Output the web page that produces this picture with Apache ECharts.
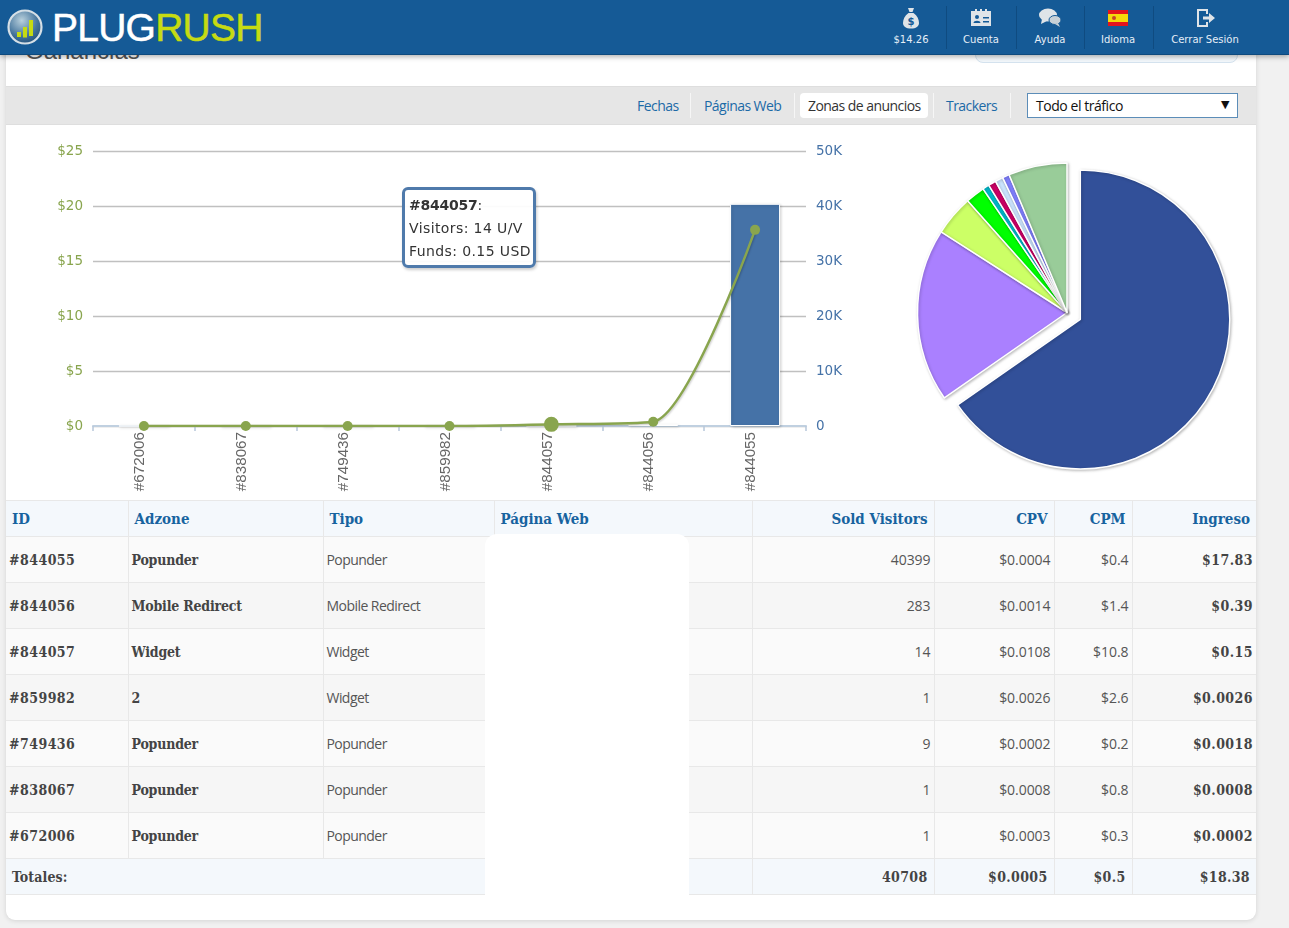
<!DOCTYPE html>
<html lang="es">
<head>
<meta charset="utf-8">
<title>PlugRush</title>
<script src="https://cdn.jsdelivr.net/npm/echarts@6/dist/echarts.min.js"></script>
<style>
  html, body { margin: 0; height: 100%; overflow: hidden; background: #f1f1f1; }
  body { position: relative; width: 1289px; height: 928px; font-family: "Open Sans", sans-serif; color: #444; }
  .abs { position: absolute; }
  #card { left: 6px; top: 40px; width: 1250px; height: 880px; background: #fff; border-radius: 0 0 9px 9px; box-shadow: 0 1px 5px rgba(0,0,0,.12); }
  #heading { left: 25px; top: 37px; font: 24px "Liberation Sans", sans-serif; color: #555; }
  #datebox { left: 975px; top: 40px; width: 261px; height: 21px; background: #f3f8fc; border: 1px solid #d5e3ef; border-radius: 8px; }
  #header { left: 0; top: 0; width: 1289px; height: 54px; background: #155a96; border-bottom: 1px solid #0e4a7e; box-shadow: 0 2px 5px rgba(0,0,0,.3); }
  #logo { left: 52px; top: 6px; font: 39px/44px "Liberation Sans", sans-serif; letter-spacing: -.75px; color: #fff; -webkit-text-stroke: .5px #fff; }
  #logo span { color: #c6db12; -webkit-text-stroke: .5px #c6db12; }
  .nav { top: 7px; width: 90px; text-align: center; color: #e6eef6; font: 10px/12px "DejaVu Sans", sans-serif; }
  .nav svg { display: block; margin: 0 auto 5px; width: 24px; height: 22px; }
  .navsep { top: 6px; width: 1px; height: 43px; background: #0f4b80; }
  #toolbar { left: 6px; top: 86px; width: 1250px; height: 39px; background: #e6e6e6; border-top: 1px solid #dedede; border-bottom: 1px solid #dedede; box-sizing: border-box; }
  .tab { top: 97px; font: 14px/18px "Open Sans", sans-serif; letter-spacing: -.55px; color: #1c6aa6; white-space: nowrap; }
  #activetab { left: 800px; top: 93px; width: 128px; height: 25px; background: #fff; border-radius: 4px; }
  .tabsep { top: 93px; width: 1px; height: 25px; background: #f6f6f6; }
  #select { left: 1027px; top: 93px; width: 211px; height: 25px; box-sizing: border-box; background: #fff; border: 1px solid #5c8db8; font: 14px/23px "Open Sans", sans-serif; letter-spacing: -.45px; color: #111; padding-left: 8px; }
  #select b { position: absolute; right: 8px; top: -1px; font: 11px/23px "DejaVu Sans", sans-serif; }
  #chart { left: 6px; top: 125px; width: 1250px; height: 375px; }
  #report { left: 6px; top: 500px; width: 1250px; border-collapse: collapse; table-layout: fixed; }
  #report th, #report td { border: 1px solid #e8e8e8; padding: 0; white-space: nowrap; }
  #report tr > :first-child { border-left: 0; }
  #report tr > :last-child { border-right: 0; }
  #report th { height: 35px; background: #f4f8fc; color: #17639f; font: bold 15px "DejaVu Serif Condensed", "DejaVu Serif", serif; font-stretch: condensed; letter-spacing: 0; text-align: left; padding-left: 6px; }
  #report th.num { text-align: right; padding: 0 6px 0 0; }
  #report td { height: 45px; font: 14px "Open Sans", sans-serif; letter-spacing: -.55px; color: #555; padding-left: 3px; }
  #report tbody tr:nth-child(odd) td { background: #fafafa; }
  #report tbody tr:nth-child(even) td { background: #f6f6f6; }
  #report td.num { text-align: right; padding: 0 3px 0 0; letter-spacing: -.05px; }
  #report td.strong { font: bold 14px "DejaVu Serif Condensed", "DejaVu Serif", serif; font-stretch: condensed; letter-spacing: -.2px; color: #444; }
  #report td.strong.digits { letter-spacing: .45px; }
  #report tfoot td { height: 35px; background: #f4f8fc; font: bold 14px "DejaVu Serif Condensed", "DejaVu Serif", serif; font-stretch: condensed; letter-spacing: .1px; color: #444; padding-left: 6px; }
  #report tfoot td.num { padding: 0 6px 0 0; letter-spacing: .35px; }
  #mask { left: 485px; top: 534px; width: 204px; height: 361px; background: #fff; border-radius: 12px 12px 0 0; }
</style>
</head>
<body>
<div class="abs" id="card"></div>
<div class="abs" id="heading">Ganancias</div>
<div class="abs" id="datebox"></div>
<div class="abs" id="toolbar"></div>
<div class="abs" id="activetab"></div>
<div class="abs tab" style="left:637px">Fechas</div>
<div class="abs tabsep" style="left:690px"></div>
<div class="abs tab" style="left:704px">Páginas Web</div>
<div class="abs tabsep" style="left:794px"></div>
<div class="abs tab" style="left:808px;color:#333">Zonas de anuncios</div>
<div class="abs tabsep" style="left:933px"></div>
<div class="abs tab" style="left:946px">Trackers</div>
<div class="abs tabsep" style="left:1010px"></div>
<div class="abs" id="select">Todo el tráfico<b>▼</b></div>
<div class="abs" id="chart"></div>
<table class="abs" id="report">
  <colgroup>
    <col style="width:122px"><col style="width:195px"><col style="width:171px"><col style="width:258px">
    <col style="width:182px"><col style="width:120px"><col style="width:78px"><col style="width:124px">
  </colgroup>
  <thead><tr id="reportHead"></tr></thead>
  <tbody id="reportBody"></tbody>
  <tfoot><tr id="reportFoot"></tr></tfoot>
</table>
<div class="abs" id="mask"></div>
<div class="abs" id="header">
  <svg class="abs" style="left:6px;top:8px" width="38" height="38" viewBox="0 0 38 38">
    <defs><radialGradient id="globe" cx=".4" cy=".3" r=".8"><stop offset="0" stop-color="#b9d0dc"/><stop offset=".6" stop-color="#44749c"/><stop offset="1" stop-color="#1d4a75"/></radialGradient></defs>
    <circle cx="19" cy="19" r="16.5" fill="url(#globe)" stroke="#d5dfe6" stroke-width="2.2"/>
    <path d="M11 24h4v5h-4zM17 19h4v10.500h-4zM23 12h4v16h-4z" fill="#c6db12"/>
  </svg>
  <div class="abs" id="logo">PLUG<span>RUSH</span></div>
  <div class="abs nav" style="left:866px">
    <svg viewBox="0 0 24 22"><path d="M9 1h6l-1.500 4h-3zM9.500 6h5c4 3 5.500 6.500 5.500 10 0 3.500-3 5.500-8 5.500s-8-2-8-5.500c0-3.500 1.500-7 5.500-10z" fill="#dfe4e8"/><text x="12" y="18" font-size="10" font-weight="bold" text-anchor="middle" fill="#155a96" font-family="DejaVu Sans">$</text></svg>
    $14.26
  </div>
  <div class="abs navsep" style="left:946px"></div>
  <div class="abs nav" style="left:936px">
    <svg viewBox="0 0 24 22"><path d="M2 4h20v15H2z" fill="#dfe4e8"/><path d="M6 2h2v4H6zM11 2h2v4h-2zM16 2h2v4h-2z" fill="#dfe4e8"/><circle cx="8" cy="10" r="2" fill="#155a96"/><path d="M4.500 16c0-3 7-3 7 0zM14 10h6v1.500h-6zM14 14h6v1.500h-6z" fill="#155a96"/></svg>
    Cuenta
  </div>
  <div class="abs navsep" style="left:1016px"></div>
  <div class="abs nav" style="left:1005px">
    <svg viewBox="0 0 24 22"><ellipse cx="10" cy="8" rx="9" ry="6.500" fill="#dfe4e8"/><path d="M4 12l-1 5 6-3z" fill="#dfe4e8"/><ellipse cx="17" cy="13" rx="6" ry="4.500" fill="#c8d0d6" stroke="#155a96"/><path d="M20 16l2 4-5-3z" fill="#c8d0d6"/></svg>
    Ayuda
  </div>
  <div class="abs navsep" style="left:1084px"></div>
  <div class="abs nav" style="left:1073px">
    <svg viewBox="0 0 24 22"><path d="M2 3h20v16H2z" fill="#e3141d"/><path d="M2 7h20v8H2z" fill="#f5d90a"/><circle cx="8" cy="11" r="2" fill="#c8452a"/></svg>
    Idioma
  </div>
  <div class="abs navsep" style="left:1153px"></div>
  <div class="abs nav" style="left:1160px">
    <svg viewBox="0 0 24 22"><path d="M4 2h11v5h-2V4H6v14h7v-3h2v5H4z" fill="#dfe4e8"/><path d="M10 9.500h6V6l6 5-6 5v-3.500h-6z" fill="#dfe4e8"/></svg>
    Cerrar Sesión
  </div>
</div>

<script>
// values
const categories = ["#672006", "#838067", "#749436", "#859982", "#844057", "#844056", "#844055"];
const funds = [0.0002, 0.0008, 0.0018, 0.0026, 0.15, 0.39, 17.83];
const visitors = [1, 1, 9, 1, 14, 283, 40399];
const activeIndex = 4;

// pie has no labels in the picture, shares are estimated from the slice angles
const pieShares = [65.3, 18.75, 4.36, 2.08, 0.72, 0.83, 0.86, 0.75, 6.33];
const pieColors = ["#325099", "#aa80ff", "#ccff66", "#00ff00", "#00bbcc", "#cc0066", "#cce5ff", "#8080ff", "#99cc99"];

const tableHead = ["ID", "Adzone", "Tipo", "Página Web", "Sold Visitors", "CPV", "CPM", "Ingreso"];
const tableIds = ["#844055", "#844056", "#844057", "#859982", "#749436", "#838067", "#672006"];
const tableZones = ["Popunder", "Mobile Redirect", "Widget", "2", "Popunder", "Popunder", "Popunder"];
const tableTypes = ["Popunder", "Mobile Redirect", "Widget", "Widget", "Popunder", "Popunder", "Popunder"];
const tableVisitors = ["40399", "283", "14", "1", "9", "1", "1"];
const tableCpv = ["$0.0004", "$0.0014", "$0.0108", "$0.0026", "$0.0002", "$0.0008", "$0.0003"];
const tableCpm = ["$0.4", "$1.4", "$10.8", "$2.6", "$0.2", "$0.8", "$0.3"];
const tableIncome = ["$17.83", "$0.39", "$0.15", "$0.0026", "$0.0018", "$0.0008", "$0.0002"];
const tableTotals = ["40708", "$0.0005", "$0.5", "$18.38"];

// Table
document.getElementById("reportHead").innerHTML = tableHead
  .map((h, i) => `<th${i > 3 ? ' class="num"' : ""}>${h}</th>`)
  .join("");
document.getElementById("reportBody").innerHTML = tableIds
  .map((id, i) => `<tr>
    <td class="strong digits">${id}</td><td class="strong">${tableZones[i]}</td><td>${tableTypes[i]}</td><td></td>
    <td class="num">${tableVisitors[i]}</td><td class="num">${tableCpv[i]}</td><td class="num">${tableCpm[i]}</td>
    <td class="num strong digits">${tableIncome[i]}</td></tr>`)
  .join("");
document.getElementById("reportFoot").innerHTML =
  `<td colspan="3">Totales:</td><td></td>` + tableTotals.map((t) => `<td class="num">${t}</td>`).join("");

// Chart
const chart = echarts.init(document.getElementById("chart"));
const axisFont = { fontFamily: "DejaVu Sans", fontSize: 13.5 };

chart.setOption({
  animation: false,
  tooltip: {
    trigger: "item",
    alwaysShowContent: true,
    transitionDuration: 0,
    position: [396, 62],
    padding: 0,
    borderWidth: 0,
    backgroundColor: "transparent",
    extraCssText: "box-shadow:none;",
    formatter: (p) =>
      `<div style="box-sizing:border-box;width:134px;height:81px;padding:4px 4px;background:rgba(255,255,255,.93);
        border:3px solid #4f7aab;border-radius:6px;box-shadow:1px 2px 3px rgba(0,0,0,.2);
        font:14px/23px 'DejaVu Sans',sans-serif;letter-spacing:.4px;color:#333;">
        <b style="letter-spacing:-.25px">${categories[p.dataIndex]}</b>:<br>Visitors: ${visitors[p.dataIndex]} U/V<br>Funds: ${funds[p.dataIndex]} USD</div>`,
  },
  grid: { left: 87, right: 450, top: 26, bottom: 74 },
  xAxis: {
    type: "category",
    data: categories,
    axisLine: { lineStyle: { color: "#c0d0e0", width: 2 } },
    axisTick: { show: true, length: 5, lineStyle: { color: "#b8c8da", width: 1.5 } },
    axisLabel: {
      rotate: 90,
      margin: 6,
      color: "#666",
      fontFamily: "Liberation Sans",
      fontSize: 15.2,
      interval: 0,
      verticalAlign: "bottom",
      lineHeight: 8,
    },
  },
  yAxis: [
    {
      type: "value",
      min: 0,
      max: 25,
      interval: 5,
      axisLabel: { ...axisFont, margin: 10, color: "#89a54e", formatter: "${value}" },
      splitLine: { lineStyle: { color: "#c0c0c0", width: 1.3 } },
    },
    {
      type: "value",
      min: 0,
      max: 50000,
      interval: 10000,
      position: "right",
      axisLabel: {
        ...axisFont,
        margin: 10,
        color: "#4572a7",
        formatter: (v) => (v ? v / 1000 + "K" : "0"),
      },
      splitLine: { show: false },
    },
  ],
  series: [
    {
      type: "bar",
      yAxisIndex: 1,
      data: visitors,
      barWidth: 50,
      silent: true,
      itemStyle: {
        color: "#4572a7",
        borderColor: "#fff",
        borderWidth: 1,
        shadowColor: "rgba(0,0,0,.18)",
        shadowBlur: 3,
        shadowOffsetX: 1,
        shadowOffsetY: 1,
      },
    },
    {
      type: "line",
      yAxisIndex: 0,
      smooth: 0.25,
      data: funds.map((v, i) => (i === activeIndex ? { value: v, symbolSize: 15 } : v)),
      symbol: "circle",
      symbolSize: 10,
      lineStyle: { color: "#89a54e", width: 2.5, shadowColor: "rgba(0,0,0,.2)", shadowBlur: 2, shadowOffsetX: 1, shadowOffsetY: 1 },
      itemStyle: { color: "#89a54e" },
      emphasis: { scale: false },
    },
    {
      type: "pie",
      center: [1061, 187.5],
      radius: 149.5,
      startAngle: 90,
      clockwise: true,
      selectedMode: "single",
      selectedOffset: 15,
      silent: true,
      label: { show: false },
      labelLine: { show: false },
      data: pieShares.map((v, i) => ({ value: v, selected: i === 0, itemStyle: { color: pieColors[i] } })),
      itemStyle: { borderColor: "#fff", borderWidth: 1.5, shadowColor: "rgba(0,0,0,.25)", shadowBlur: 3, shadowOffsetX: 1, shadowOffsetY: 1 },
    },
  ],
});

chart.dispatchAction({ type: "showTip", seriesIndex: 1, dataIndex: activeIndex });
</script>
</body>
</html>
